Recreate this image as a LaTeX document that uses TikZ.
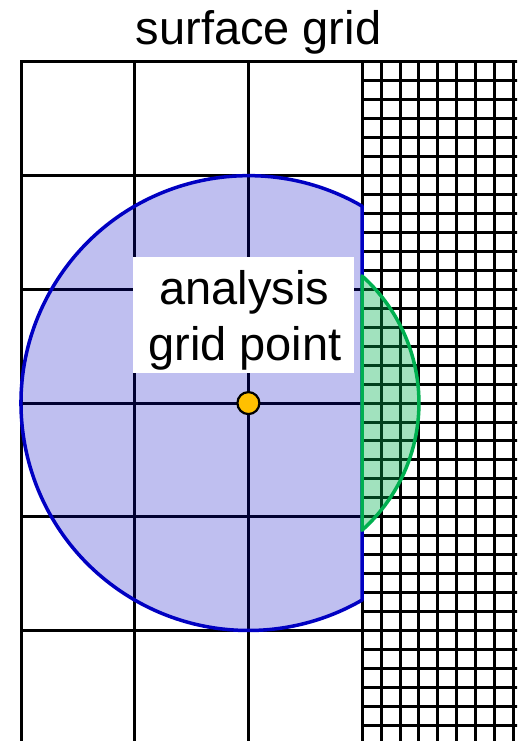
\documentclass[tikz,border=0pt]{standalone}
\usepackage{fontspec}
\setmainfont{Liberation Sans}
\definecolor{ablue}{RGB}{0,0,194}
\definecolor{agreen}{RGB}{0,176,80}
\definecolor{ayellow}{RGB}{255,192,0}
\tikzset{
  gridline/.style={black, line width=3pt, line cap=rect},
  bigtext/.style={font=\fontsize{47}{55}\selectfont, inner sep=0pt, anchor=base},
  bluezone/.style={fill=ablue, fill opacity=0.25, draw=ablue, draw opacity=1, line width=3.5pt, line join=round},
  greenzone/.style={fill=agreen, fill opacity=0.37, draw=agreen, draw opacity=1, line width=3.5pt, line join=round},
  labelbox/.style={fill=white, inner sep=0pt, minimum width=221pt, minimum height=116.6pt},
  dotnode/.style={circle, fill=ayellow, draw=black, line width=2.2pt, minimum size=22pt, inner sep=0pt}
}
\begin{document}
\begin{tikzpicture}[x=1pt,y=1pt]
\useasboundingbox (0,0) rectangle (517,741);
\clip (0,0) rectangle (517,741);
\def\cs{113.7}
\def\xo{21}
\def\yt{679}
% fine grid
\foreach \i in {0,...,8}
  \draw[gridline] ({\xo+3*\cs+\i*\cs/6},\yt) -- ({\xo+3*\cs+\i*\cs/6},-20);
\foreach \j in {0,...,36}
  \draw[gridline] ({\xo+3*\cs},{\yt-\j*\cs/6}) -- (540,{\yt-\j*\cs/6});
% coarse grid
\foreach \i in {0,1,2}
  \draw[gridline] ({\xo+\i*\cs},\yt) -- ({\xo+\i*\cs},-20);
\foreach \j in {0,...,5}
  \draw[gridline] (\xo,{\yt-\j*\cs}) -- ({\xo+3*\cs},{\yt-\j*\cs});
% analysis point
\coordinate (P) at ({\xo+2*\cs},{\yt-3*\cs});
% blue region
\draw[bluezone] (P) ++(60:{2*\cs}) arc[start angle=60, end angle=300, radius={2*\cs}] -- cycle;
% green region
\draw[greenzone] (P) ++(-48.19:{1.5*\cs}) arc[start angle=-48.19, end angle=48.19, radius={1.5*\cs}] -- cycle;
% label
\node[labelbox] (box) at (243.8,426) {};
\node[bigtext] (t1) at (244.5,436) {analysis};
\node[bigtext] (t2) at (245,380.5) {grid point};
\node[dotnode] (dot) at (P) {};
% title
\node[bigtext] (title) at (258.5,696.7) {surface grid};
\end{tikzpicture}
\end{document}
